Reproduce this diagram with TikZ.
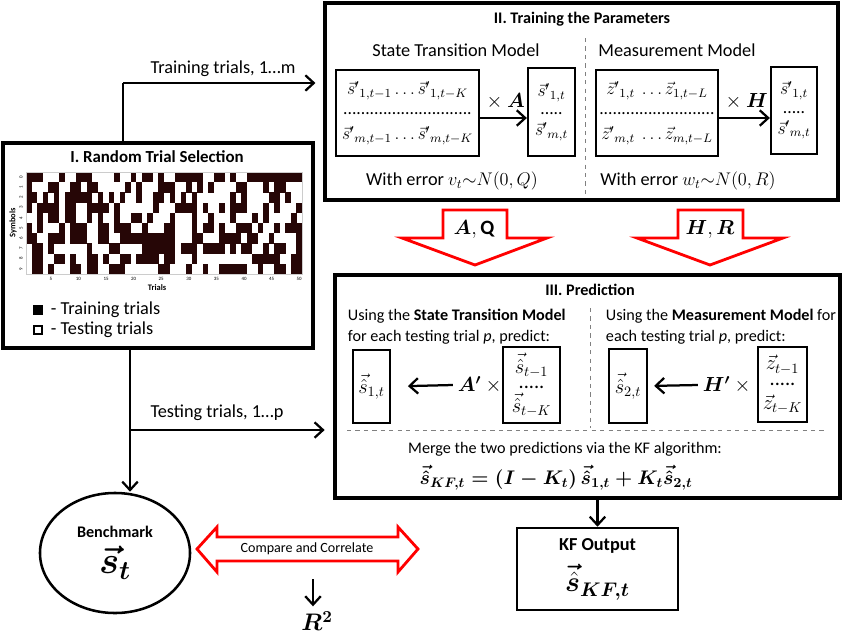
\documentclass[tikz,border=0pt]{standalone}
\usepackage{fix-cm}
\usepackage{amsmath,amssymb,bm}
\usepackage{fontspec}
\setmainfont{Carlito}
\usetikzlibrary{arrows.meta,fit,shapes.geometric}

\definecolor{cellclr}{RGB}{38,6,6}

\tikzset{
  bigbox/.style={draw, line width=2.2pt, inner sep=0pt},
  matbox/.style={draw, line width=1.6pt, align=center, inner sep=1pt, font=\fontsize{12.5}{15}\selectfont},
  conn/.style={line width=1.6pt, -{Straight Barb[length=6pt,width=11pt,line width=1.6pt]}},
  blockarrow/.style={draw=red, line width=2pt, fill=white, line join=miter},
  divider/.style={gray, dashed, line width=0.6pt},
  ttl/.style={font=\fontsize{11.5}{14}\selectfont\bfseries},
  txt/.style={font=\fontsize{13}{15}\selectfont},
  mtxt/.style={font=\fontsize{14.5}{16}\selectfont},
  smalltxt/.style={font=\fontsize{11.5}{15}\selectfont},
  eqtxt/.style={font=\fontsize{14}{16}\selectfont\boldmath}
}

\begin{document}
\begin{tikzpicture}[x=0.025cm, y=-0.025cm]
    \useasboundingbox (0,0) rectangle (851,634);
    %% Draw the three stage boxes
    \node[bigbox, fit={(3,143) (313,348)}] (sel) {};
    \node[bigbox, fit={(325,3) (838,200)}] (train) {};
    \node[bigbox, fit={(335,275) (840,498)}] (pred) {};

    %% Stage I: random trial selection
    \node[ttl, font=\fontsize{12}{14}\selectfont\bfseries] (seltitle) at (157,157) {I. Random Trial Selection};
    \pgfmathsetseed{11}
    \foreach \r in {0,...,9}{
      \foreach \c in {1,...,50}{
        \pgfmathrandominteger{\cell}{0}{1}
        \ifnum\cell=1
          \fill[cellclr] ({26+(\c-1)*5.52},{172+\r*10.2}) rectangle ++(5.6,10.3);
        \fi
      }
    }
    \draw[gray!40, line width=0.3pt] (26,172) rectangle (302,274);
    \foreach \r in {0,...,9}
      \node[font=\fontsize{3.5}{4}\selectfont, rotate=90] (row\r) at (21,{177+\r*10.2}) {\r};
    \foreach \c in {5,10,...,50}
      \node[font=\fontsize{3.5}{4}\selectfont] (col\c) at ({26+(\c-0.5)*5.52},279) {\c};
    \node[font=\fontsize{6}{7}\selectfont\bfseries, rotate=90] (ylab) at (13,223) {Symbols};
    \node[font=\fontsize{6}{7}\selectfont\bfseries] (xlab) at (157,288) {Trials};
    %% legend
    \node[draw, fill=black, line width=1pt, minimum size=0.22cm, inner sep=0pt] (keytrain) at (38,310) {};
    \node[draw, fill=white, line width=1.8pt, minimum size=0.19cm, inner sep=0pt] (keytest) at (38,330) {};
    \node[txt, anchor=west] (keytraintxt) at (46,310) {- Training trials};
    \node[txt, anchor=west] (keytesttxt) at (46,330) {- Testing trials};

    %% Stage II: training the parameters
    \node[ttl] (traintitle) at (582,19) {II. Training the Parameters};
    \node[txt] (stmhead) at (456,50) {State Transition Model};
    \node[txt] (mmhead) at (677,50) {Measurement Model};
    \draw[divider] (585,38) -- (585,198);
    \node[matbox, minimum width=3.575cm, minimum height=2.15cm] (smat) at (407.5,113)
      {$\vec{s}'{}_{1,t-1}\ldots\vec{s}'{}_{1,t-K}$\\[-1pt]
       .............................\\[3pt]
       $\vec{s}'{}_{m,t-1}\ldots\vec{s}'{}_{m,t-K}$};
    \node[matbox, minimum width=1.175cm, minimum height=2.2cm] (sv) at (551.5,112)
      {$\vec{s}'{}_{1,t}$\\[-2pt] .....\\[0pt] $\vec{s}'{}_{m,t}$};
    \node[matbox, minimum width=3.05cm, minimum height=2.15cm] (zmat) at (657,113)
      {$\vec{z}'{}_{1,t}\ \ldots\vec{z}_{1,t-L}$\\[-1pt]
       ..........................\\[3pt]
       $\vec{z}'{}_{m,t}\ \ldots\vec{z}_{m,t-L}$};
    \node[matbox, minimum width=1.15cm, minimum height=2.175cm] (zv) at (794,110.5)
      {$\vec{s}'{}_{1,t}$\\[-2pt] .....\\[0pt] $\vec{s}'{}_{m,t}$};
    \coordinate (arrowy) at (0,118);
    \draw[conn] (smat.east |- arrowy) -- (sv.west |- arrowy)
      node[midway, above=2pt, mtxt] (xa) {${}\times\bm{A}$};
    \draw[conn] (zmat.east |- arrowy) -- (zv.west |- arrowy)
      node[midway, above=2pt, mtxt] (xh) {${}\times\bm{H}$};
    \node[txt] (errq) at (452,181) {With error $v_t{\sim}N(0,Q)$};
    \node[txt] (errr) at (688,181) {With error $w_t{\sim}N(0,R)$};

    %% Parameters handed down to the prediction stage
    \draw[blockarrow] (443,210) -- (507,210) -- (507,238) -- (547,238) -- (475,265)
      -- (402,238) -- (443,238) -- cycle;
    \node[mtxt] (aq) at (474,229) {$\bm{A},\mathbf{Q}$};
    \draw[blockarrow] (678,210) -- (743,210) -- (743,238) -- (783,238) -- (710,265)
      -- (637,238) -- (678,238) -- cycle;
    \node[mtxt] (hr) at (710,229) {$\bm{H},\bm{R}$};

    %% Stage III: prediction
    \node[ttl] (predtitle) at (590,290) {III. Prediction};
    \node[smalltxt, anchor=north west, align=left] (stmuse) at (343,304)
      {Using the \textbf{State Transition Model}\\ for each testing trial \textit{p}, predict:};
    \node[smalltxt, anchor=north west, align=left] (mmuse) at (601,304)
      {Using the \textbf{Measurement Model} for\\ each testing trial \textit{p}, predict:};
    \draw[divider] (590,308) -- (590,428);
    \draw[divider] (347,430) -- (827,430);
    \node[matbox, minimum width=0.925cm, minimum height=1.825cm, mtxt] (s1) at (371.5,386.5) {$\vec{\hat{s}}_{1,t}$};
    \node[mtxt] (ap) at (482,385) {$\bm{A'}\times{}$};
    \node[matbox, minimum width=1.425cm, minimum height=1.9cm, mtxt] (shist) at (531.5,385)
      {$\vec{\hat{s}}_{t-1}$\\[-5pt] .....\\[1pt] $\vec{\hat{s}}_{t-K}$};
    \node[matbox, minimum width=0.95cm, minimum height=1.85cm, mtxt] (s2) at (628,386) {$\vec{\hat{s}}_{2,t}$};
    \node[mtxt] (hp) at (729,385) {$\bm{H'}\times{}$};
    \node[matbox, minimum width=1.225cm, minimum height=1.875cm, mtxt] (zhist) at (782.5,384.5)
      {$\vec{z}_{t-1}$\\[-5pt] .....\\[1pt] $\vec{z}_{t-K}$};
    \draw[conn, shorten >=0.42cm] (ap.west) -- (s1.east);
    \draw[conn, shorten >=0.15cm] (hp.west) -- (s2.east);
    \node[smalltxt] (merge) at (565,449) {Merge the two predictions via the KF algorithm:};
    \node[eqtxt] (kfeq) at (556,478) {$\vec{\hat{s}}_{KF,t} = (I - K_t)\,\vec{\hat{s}}_{1,t} + K_t\vec{\hat{s}}_{2,t}$};

    %% Outputs
    \node[draw, ellipse, line width=1.8pt, minimum width=3.75cm, minimum height=3cm, align=center] (bench) at (115,553)
      {{\fontsize{11.5}{14}\selectfont\bfseries Benchmark}\\[5pt] {\fontsize{27}{29}\selectfont$\bm{\vec{s}_t}$}};
    \node[draw, line width=1.8pt, minimum width=4.025cm, minimum height=2.05cm, align=center] (kf) at (597.5,569)
      {{\fontsize{13}{15}\selectfont\bfseries KF Output}\\[7pt] {\fontsize{20}{22}\selectfont$\bm{\vec{\hat{s}}_{KF,t}}$}};
    \draw[blockarrow] (197,549) -- (217,527) -- (217,537) -- (398,537) -- (398,527) -- (418,549)
      -- (398,572) -- (398,561) -- (217,561) -- (217,572) -- cycle;
    \node[font=\fontsize{10}{12}\selectfont] (cmp) at (307,549) {Compare and Correlate};
    \node[font=\fontsize{17}{19}\selectfont] (rsq) at (317,621) {$\bm{R^2}$};

    %% Draw the connectors
    \coordinate (trainbend) at (123,83);
    \coordinate (testbend) at (130,430);
    \coordinate (rtop) at (313,579);
    \node[txt] (trainlbl) at (223,69) {Training trials, 1\ldots m};
    \node[txt] (testlbl) at (217,413) {Testing trials, 1\ldots p};
    \begin{scope}[every path/.style={conn}]
      \draw[-] (trainbend |- sel.north) -- (trainbend);
      \draw[shorten >=0.2cm] (trainbend) -- (trainbend -| train.west);
      \draw (testbend |- sel.south) -- (testbend |- bench.north);
      \draw[shorten >=0.22cm] (testbend) -- (testbend -| pred.west);
      \draw (pred.south -| kf.north) -- (kf.north);
      \draw (rtop) -- (rtop |- rsq.north);
    \end{scope}
\end{tikzpicture}
\end{document}
